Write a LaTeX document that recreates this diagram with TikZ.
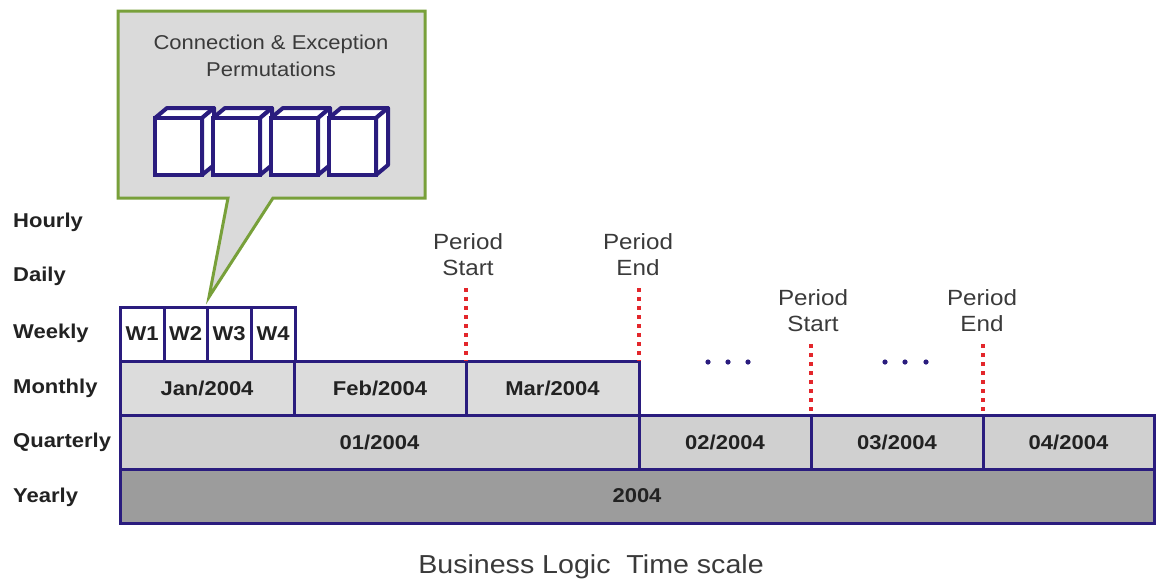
\documentclass[tikz,border=0pt]{standalone}
\usepackage{fontspec}
\setmainfont{Liberation Sans}[FakeStretch=1.1]
\begin{document}
\definecolor{navy}{HTML}{2A1C7E}
\definecolor{leaf}{HTML}{78A03A}
\definecolor{calloutfill}{HTML}{DADADA}
\definecolor{monthfill}{HTML}{DCDCDC}
\definecolor{quarterfill}{HTML}{D0D0D0}
\definecolor{yearfill}{HTML}{9C9C9C}
\definecolor{ink}{HTML}{222222}
\definecolor{softink}{HTML}{3A3A3A}
\definecolor{marker}{HTML}{E3262B}
\begin{tikzpicture}[x=1pt,y=-1pt,
  rowlabel/.style={anchor=west,inner sep=0pt,text=ink,font=\fontsize{20}{24}\selectfont\bfseries},
  cell/.style={draw=navy,line width=3pt,inner sep=0pt,outer sep=0pt,minimum height=54pt,
    text=ink,font=\fontsize{20}{24}\selectfont\bfseries},
  weekcell/.style={cell,fill=white,minimum width=#1},
  monthcell/.style={cell,fill=monthfill,minimum width=#1},
  quartercell/.style={cell,fill=quarterfill,minimum width=#1},
  yearcell/.style={cell,fill=yearfill,minimum width=#1},
  periodlabel/.style={align=center,inner sep=0pt,text=softink,font=\fontsize{22}{26}\selectfont},
  periodline/.style={draw=marker,line width=4pt,dash pattern=on 4pt off 5pt},
  cubeline/.style={draw=navy,line width=4pt,fill=white,line join=round},
  gap/.style={fill=navy}]
\useasboundingbox (0,0) rectangle (1157,582);

% speech bubble with the cube row
\path[fill=calloutfill,draw=leaf,line width=3pt,line join=miter]
  (118,11) -- (425,11) -- (425,198) -- (273,198) -- (209,297) -- (228,198) -- (118,198) -- cycle;
\node[align=center,inner sep=0pt,text=softink,font=\fontsize{20}{27}\selectfont] (bubbletext)
  at (271,56) {Connection \& Exception\\Permutations};
\foreach \i in {0,1,2,3}{
  \pgfmathsetmacro{\cx}{155+58*\i}
  \path[cubeline] (\cx,118) -- (\cx+12,108) -- (\cx+59,108) -- (\cx+47,118) -- cycle;
  \path[cubeline] (\cx+47,118) -- (\cx+59,108) -- (\cx+59,165) -- (\cx+47,175) -- cycle;
  \path[cubeline,line join=miter] (\cx,118) rectangle (\cx+47,175);
}

% level labels
\node[rowlabel] (hourly)    at (13,222) {Hourly};
\node[rowlabel] (daily)     at (13,276) {Daily};
\node[rowlabel] (weekly)    at (13,333) {Weekly};
\node[rowlabel] (monthly)   at (13,388) {Monthly};
\node[rowlabel] (quarterly) at (13,442) {Quarterly};
\node[rowlabel] (yearly)    at (13,497) {Yearly};

% yearly row
\node[yearcell=1034pt] (y2004) at (637,496) {2004};
% quarterly row
\node[quartercell=519pt] (q1) at (379.5,442) {01/2004};
\node[quartercell=172pt] (q2) at (725,442) {02/2004};
\node[quartercell=172pt] (q3) at (897,442) {03/2004};
\node[quartercell=171pt] (q4) at (1068.5,442) {04/2004};
% monthly row
\node[monthcell=174pt] (jan) at (207,388) {Jan/2004};
\node[monthcell=172pt] (feb) at (380,388) {Feb/2004};
\node[monthcell=173pt] (mar) at (552.5,388) {Mar/2004};
% weekly row
\node[weekcell=44pt] (w1) at (142,334) {W1};
\node[weekcell=43pt] (w2) at (185.5,334) {W2};
\node[weekcell=44pt] (w3) at (229,334) {W3};
\node[weekcell=44pt] (w4) at (273,334) {W4};

% period markers
\node[periodlabel] (ps1) at (468,255) {Period\\Start};
\node[periodlabel] (pe1) at (638,255) {Period\\End};
\node[periodlabel] (ps2) at (813,311) {Period\\Start};
\node[periodlabel] (pe2) at (982,311) {Period\\End};
\draw[periodline] ([yshift=-12pt]feb.north east |- ps1.south) -- (feb.north east);
\draw[periodline] ([yshift=-12pt]mar.north east |- pe1.south) -- (mar.north east);
\draw[periodline] ([yshift=-12pt]q2.north east |- ps2.south) -- (q2.north east);
\draw[periodline] ([yshift=-12pt]q3.north east |- pe2.south) -- (q3.north east);

% continuation dots
\foreach \x in {708,728,748,885,905,926}
  \fill[gap] (\x,362) circle (2.6pt);

% caption
\node[inner sep=0pt,text=softink,font=\fontsize{26}{30}\selectfont] (caption)
  at (591,567) {Business Logic\ \ Time scale};
\end{tikzpicture}
\end{document}
